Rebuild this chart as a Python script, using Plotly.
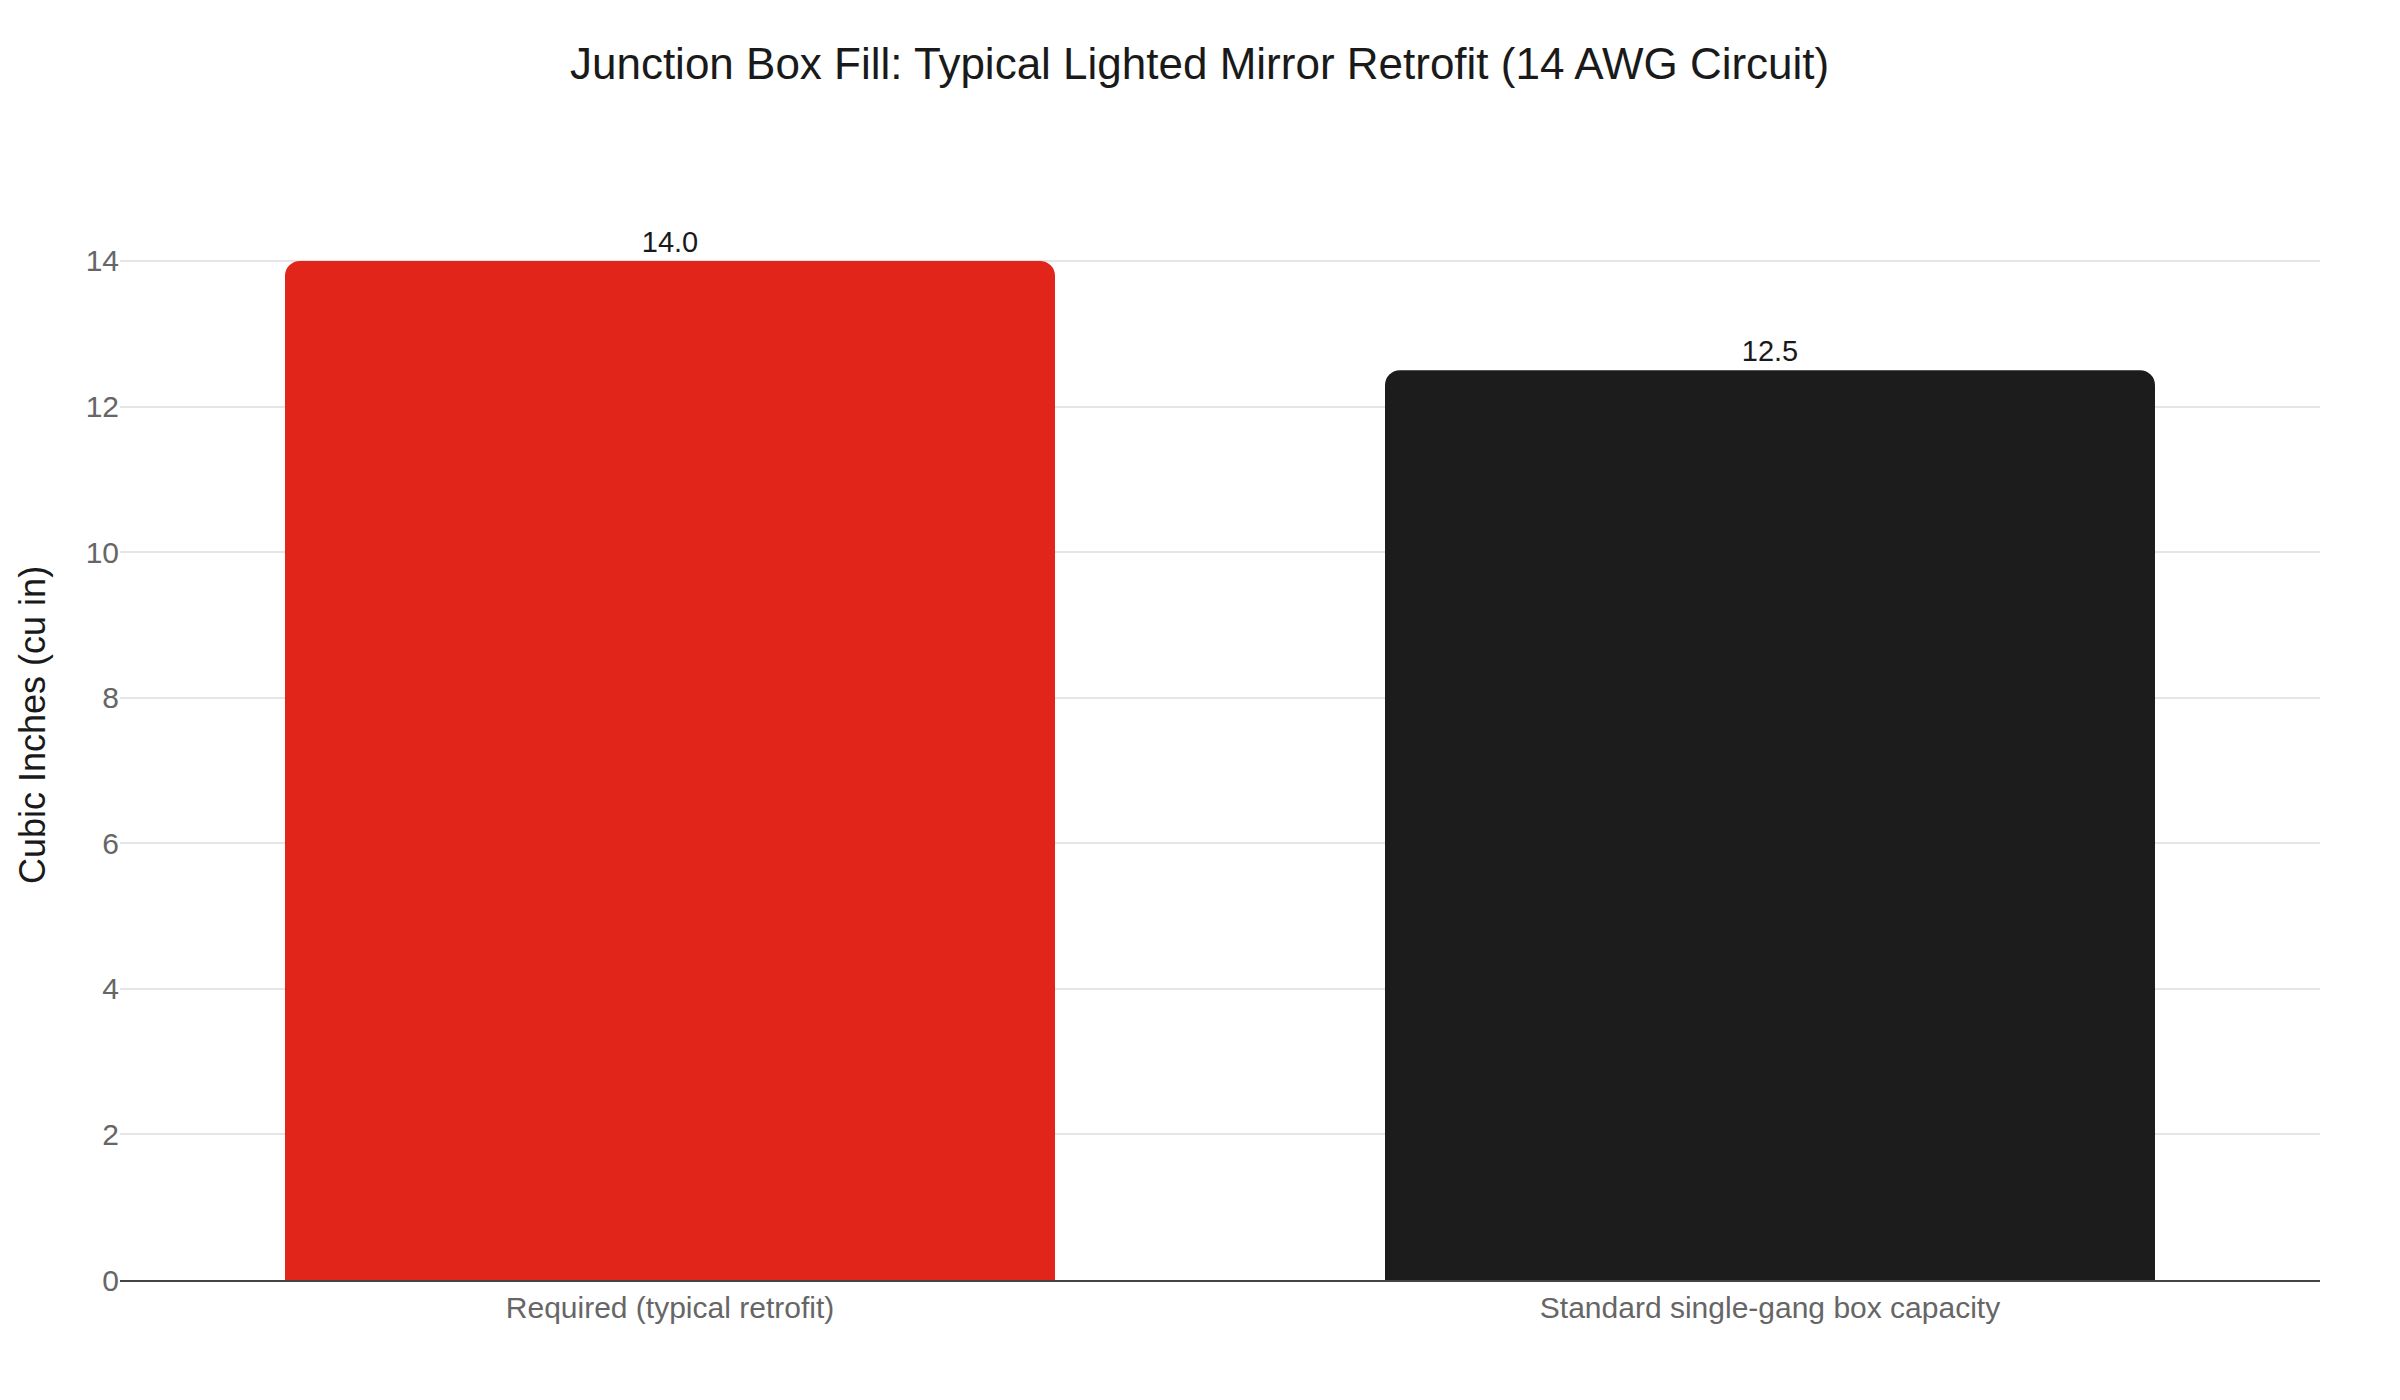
import plotly.graph_objects as go

categories = ["Required (typical retrofit)", "Standard single-gang box capacity"]
cubic_inches = [14.0, 12.5]
bar_colors = ["#E1251B", "#1C1C1C"]
y_ticks = [0, 2, 4, 6, 8, 10, 12, 14]

FONT = "Liberation Sans, Arial, Helvetica, sans-serif"

fig = go.Figure(
    go.Bar(
        x=categories,
        y=cubic_inches,
        marker=dict(color=bar_colors, line=dict(width=0)),
        texttemplate="%{y:.1f}",
        textposition="outside",
        textfont=dict(size=29, color="#1a1a1a", family=FONT),
        cliponaxis=False,
        showlegend=False,
    )
)

fig.update_layout(
    width=2400,
    height=1400,
    template="none",
    paper_bgcolor="white",
    plot_bgcolor="white",
    font=dict(family=FONT, color="#1a1a1a"),
    title=dict(
        text="Junction Box Fill: Typical Lighted Mirror Retrofit (14 AWG Circuit)",
        font=dict(size=44, color="#1a1a1a", family=FONT),
        x=0.4965,
        xanchor="center",
        y=0.96,
        yanchor="middle",
    ),
    margin=dict(l=112, r=88, t=162, b=128),
    bargap=0.3,
    barcornerradius=15,
)

# axis title placed as an annotation so it sits near the page edge
fig.add_annotation(
    text="Cubic Inches (cu in)",
    textangle=-90,
    xref="paper",
    yref="paper",
    x=-0.04,
    y=0.5,
    xanchor="center",
    yanchor="middle",
    showarrow=False,
    font=dict(size=36, color="#1a1a1a", family=FONT),
)

fig.update_xaxes(
    showgrid=False,
    showline=True,
    linecolor="#444444",
    linewidth=2,
    ticks="",
    tickfont=dict(size=30, color="#666666"),
)
fig.update_yaxes(
    range=[0, 15.25],
    tickvals=y_ticks,
    showgrid=True,
    gridcolor="#e5e5e5",
    gridwidth=2,
    zeroline=False,
    showline=False,
    ticks="",
    tickfont=dict(size=30, color="#666666"),
)

fig.write_html("out.html")
